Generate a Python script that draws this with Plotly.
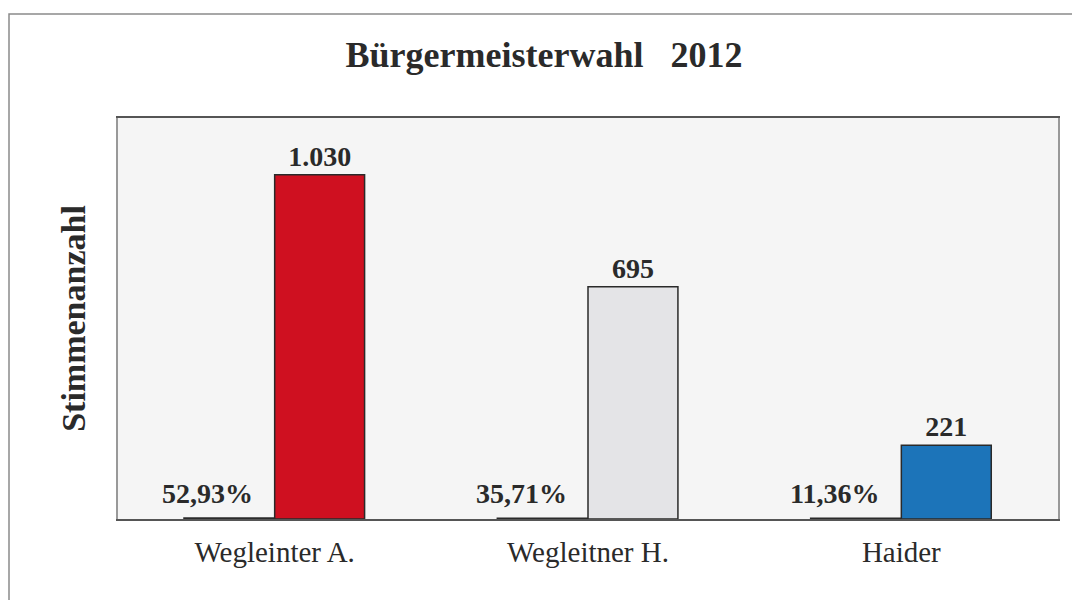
import plotly.graph_objects as go

candidates = ["Wegleinter A.", "Wegleitner H.", "Haider"]
votes = [1030, 695, 221]
vote_labels = ["1.030", "695", "221"]
shares = [0.5293, 0.3571, 0.1136]
share_labels = ["52,93%", "35,71%", "11,36%"]
vote_colors = ["#cf1020", "#e4e4e7", "#1c74b9"]

SERIF = "Liberation Serif, Times New Roman, serif"
INK = "#2a2a2a"

# page body has an 8px margin, so the figure is 8px smaller than the window
W, H = 1072, 592
L, R, T, B = 110, 22, 110, 81
PW, PH = W - L - R, H - T - B

fig = go.Figure()
fig.add_trace(go.Bar(
    x=candidates, y=shares,
    marker=dict(color=INK, line=dict(color=INK, width=3)),
    showlegend=False, hoverinfo="skip",
))
fig.add_trace(go.Bar(
    x=candidates, y=votes, text=["<b>%s</b>" % t for t in vote_labels],
    textposition="outside",
    marker=dict(color=vote_colors, line=dict(color=INK, width=1.5)),
    textfont=dict(family=SERIF, size=28, color=INK),
    cliponaxis=False, showlegend=False,
))

annotations = []
for c, s in zip(candidates, share_labels):
    annotations.append(dict(
        x=c, y=0, xref="x", yref="y", text="<b>%s</b>" % s, showarrow=False,
        xanchor="center", yanchor="bottom", xshift=-67, yshift=8,
        font=dict(family=SERIF, size=28, color=INK),
    ))

fig.update_layout(
    width=W, height=H,
    margin=dict(l=L, r=R, t=T, b=B),
    paper_bgcolor="white", plot_bgcolor="#f5f5f5",
    barmode="group", bargap=0.426, bargroupgap=0,
    title=dict(text="<b>Bürgermeisterwahl   2012</b>", x=0.5, xanchor="center",
               y=1 - 46/H, yanchor="middle",
               font=dict(family=SERIF, size=36, color=INK)),
    xaxis=dict(showgrid=False, ticks="", showline=True, linecolor="#555555",
               linewidth=1.5, mirror=True, layer="below traces",
               tickfont=dict(family=SERIF, size=29, color=INK),
               ticklabelstandoff=6),
    yaxis=dict(range=[0, 1200], showgrid=False, showticklabels=False, ticks="",
               zeroline=False, showline=True, linecolor="#999999", linewidth=1.5,
               mirror=True, layer="below traces",
               title=dict(text="<b>Stimmenanzahl</b>", standoff=20,
                          font=dict(family=SERIF, size=34, color=INK))),
    annotations=annotations,
    shapes=[
        dict(type="rect", xref="paper", yref="paper",
             x0=-(L - 1)/PW, x1=1 + (R - 2)/PW, y0=-(B + 100)/PH, y1=1 + (T - 6)/PH,
             line=dict(color="#8a8a8a", width=1.5), fillcolor="rgba(0,0,0,0)", layer="below"),
    ],
)

fig.write_html("out.html")
